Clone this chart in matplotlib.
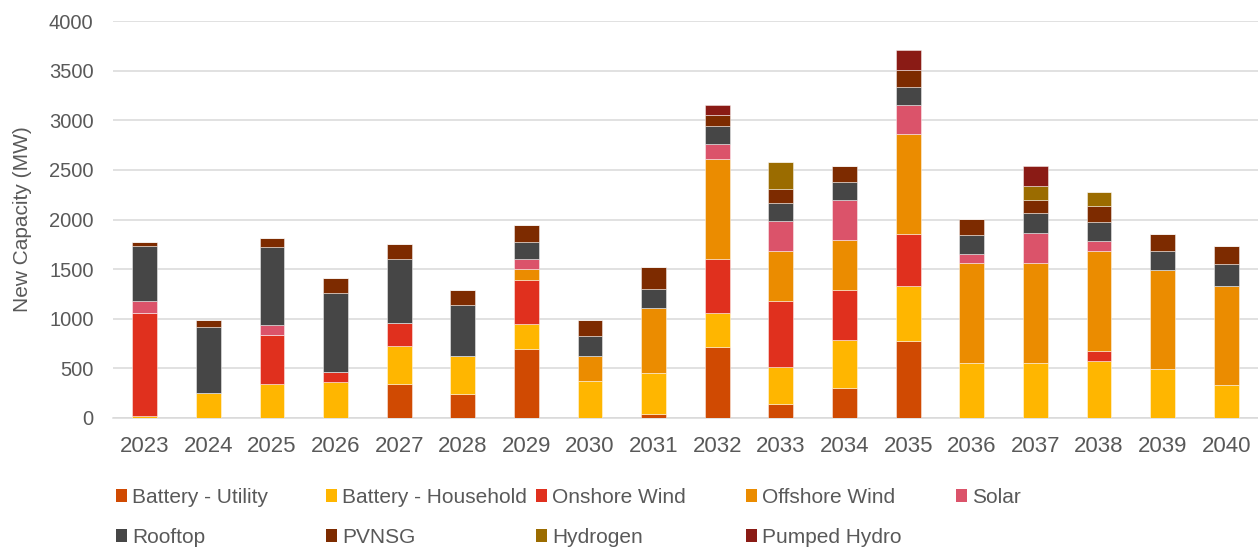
import numpy as np
import matplotlib.pyplot as plt
from matplotlib.patches import Patch

plt.rcParams['font.family'] = ['Liberation Sans', 'DejaVu Sans']

years = [str(y) for y in range(2023, 2041)]

# new capacity per technology, MW
battery_utility = [0, 0, 0, 0, 340, 242, 693, 0, 40, 713, 141, 296, 777, 0, 0, 0, 0, 0]
battery_household = [20, 249, 336, 357, 387, 384, 252, 373, 411, 343, 370, 491, 555, 552, 552, 572, 491, 330]
onshore_wind = [1033, 0, 502, 101, 225, 0, 448, 0, 0, 549, 670, 505, 525, 0, 0, 101, 0, 0]
offshore_wind = [0, 0, 0, 0, 0, 0, 104, 253, 652, 1005, 501, 501, 1006, 1006, 1006, 1006, 999, 1002]
solar = [124, 0, 97, 0, 0, 0, 101, 0, 0, 152, 303, 404, 292, 90, 302, 101, 0, 0]
rooftop = [559, 669, 791, 800, 646, 508, 171, 195, 196, 178, 181, 178, 182, 192, 202, 191, 192, 215]
pvnsg = [40, 64, 84, 148, 158, 158, 175, 161, 222, 115, 142, 165, 168, 165, 138, 169, 175, 182]
hydrogen = [0, 0, 0, 0, 0, 0, 0, 0, 0, 0, 269, 0, 0, 0, 138, 134, 0, 0]
pumped_hydro = [0, 0, 0, 0, 0, 0, 0, 0, 0, 100, 0, 0, 202, 0, 202, 0, 0, 0]

series = [
    ("Battery - Utility", battery_utility, "#D04A02"),
    ("Battery - Household", battery_household, "#FFB600"),
    ("Onshore Wind", onshore_wind, "#E0301E"),
    ("Offshore Wind", offshore_wind, "#EB8C00"),
    ("Solar", solar, "#DB536A"),
    ("Rooftop", rooftop, "#464646"),
    ("PVNSG", pvnsg, "#7D2B00"),
    ("Hydrogen", hydrogen, "#9B6C00"),
    ("Pumped Hydro", pumped_hydro, "#8A1B15"),
]

text_col = "#595959"
grid_col = "#D9D9D9"

fig = plt.figure(figsize=(12.58, 5.48), dpi=100)
ax = fig.add_axes([0.0898, 0.2378, 0.9102, 0.7233])

x = np.arange(len(years))
bottom = np.zeros(len(years))
for name, vals, col in series:
    vals = np.array(vals, dtype=float)
    ax.bar(x, vals, width=0.39, bottom=bottom, color=col,
           edgecolor=(1, 1, 1, 0.45), linewidth=0.7, zorder=3)
    bottom += vals

ax.set_xlim(-0.5, len(years) - 0.5)
ax.set_ylim(0, 4000)
ax.set_yticks(np.arange(0, 4001, 500))
ax.set_xticks(x)
ax.set_xticklabels(years)
ax.yaxis.grid(True, color=grid_col, linewidth=1.1, zorder=0)
ax.set_axisbelow(True)
for s in ["top", "right", "left"]:
    ax.spines[s].set_visible(False)
ax.spines["bottom"].set_color(grid_col)
ax.spines["bottom"].set_linewidth(1.1)
ax.tick_params(axis="x", length=0, pad=13.5, labelsize=16, colors=text_col)
ax.tick_params(axis="y", length=0, pad=14, labelsize=14.5, colors=text_col)
ax.set_ylabel("New Capacity (MW)", fontsize=15, color=text_col)
ax.yaxis.set_label_coords(-0.071, 0.5)

# legend laid out as evenly spaced columns, filled row by row
handles = [Patch(facecolor=col, edgecolor="none", label=name) for name, _, col in series]
ncol = 5
for c in range(ncol):
    hs = handles[c::ncol]
    fig.legend(handles=hs, loc="upper left",
               bbox_to_anchor=(0.0922 + c * 0.1669, 0.1095),
               frameon=False, fontsize=15, labelcolor=text_col,
               handlelength=0.53, handleheight=0.53, handletextpad=0.25,
               labelspacing=1.0, borderpad=0, borderaxespad=0)

fig.savefig("out.png", dpi=100)
